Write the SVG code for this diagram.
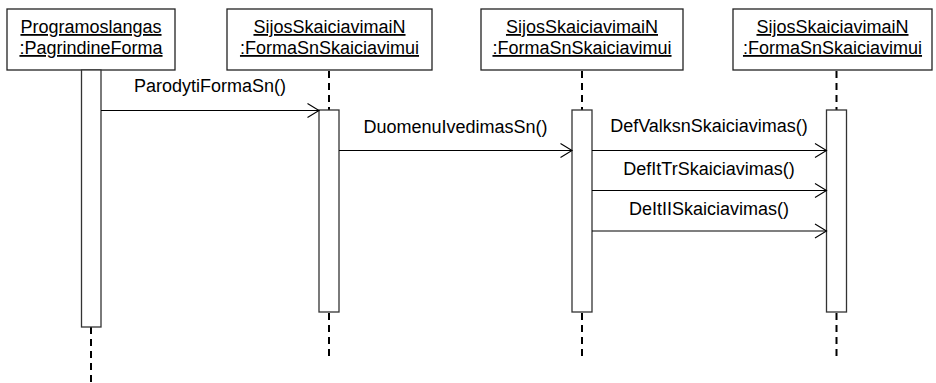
<svg xmlns="http://www.w3.org/2000/svg" width="936" height="383" viewBox="0 0 936 383">
  <style>
    .obj { fill: #ffffff; stroke: #222222; stroke-width: 1.3; }
    .act { fill: #ffffff; stroke: #333333; stroke-width: 1.3; }
    .life { stroke: #000000; stroke-width: 2; stroke-dasharray: 7 5; fill: none; }
    .msg { stroke: #000000; stroke-width: 1.1; fill: none; }
    .head { stroke: #000000; stroke-width: 1.1; fill: none; }
    text { font-family: "Liberation Sans", Arial, sans-serif; font-size: 18px; fill: #000000; }
    .name { text-anchor: middle; text-decoration: underline; }
    .lbl { text-anchor: middle; }
  </style>

  <!-- object boxes with their lifelines and activation bars -->
  <g id="programoslangas">
    <rect class="obj" x="7" y="9" width="168" height="61"/>
    <text class="name" x="91" y="33">Programoslangas</text>
    <text class="name" x="91" y="54">:PagrindineForma</text>
    <line class="life" x1="91" y1="327" x2="91" y2="383"/>
    <rect class="act" x="81.5" y="70" width="19.5" height="257"/>
  </g>

  <g id="forma-a">
    <rect class="obj" x="227" y="9" width="205" height="61"/>
    <text class="name" x="329.5" y="33">SijosSkaiciavimaiN</text>
    <text class="name" x="329.5" y="54">:FormaSnSkaiciavimui</text>
    <line class="life" x1="329" y1="71" x2="329" y2="110"/>
    <line class="life" x1="329" y1="313" x2="329" y2="360"/>
    <rect class="act" x="319" y="110" width="20" height="202"/>
  </g>

  <g id="forma-b">
    <rect class="obj" x="481" y="9" width="202" height="61"/>
    <text class="name" x="582" y="33">SijosSkaiciavimaiN</text>
    <text class="name" x="582" y="54">:FormaSnSkaiciavimui</text>
    <line class="life" x1="582" y1="71" x2="582" y2="110"/>
    <line class="life" x1="582" y1="313" x2="582" y2="360"/>
    <rect class="act" x="572" y="110" width="20" height="202"/>
  </g>

  <g id="forma-c">
    <rect class="obj" x="733" y="9" width="199" height="61"/>
    <text class="name" x="832.5" y="33">SijosSkaiciavimaiN</text>
    <text class="name" x="832.5" y="54">:FormaSnSkaiciavimui</text>
    <line class="life" x1="836.5" y1="71" x2="836.5" y2="110"/>
    <line class="life" x1="836.5" y1="313" x2="836.5" y2="360"/>
    <rect class="act" x="826.5" y="110" width="20" height="202"/>
  </g>

  <!-- synchronous messages -->
  <g id="messages">
    <line class="msg" x1="101" y1="110.5" x2="319" y2="110.5"/>
    <polyline class="head" points="307.5,103.5 319,110.5 307.5,117.5"/>
    <text class="lbl" x="210" y="92">ParodytiFormaSn()</text>

    <line class="msg" x1="339" y1="150.5" x2="572" y2="150.5"/>
    <polyline class="head" points="560.5,143.5 572,150.5 560.5,157.5"/>
    <text class="lbl" x="455.5" y="132.5">DuomenuIvedimasSn()</text>

    <line class="msg" x1="592" y1="150.5" x2="826.5" y2="150.5"/>
    <polyline class="head" points="815,143.5 826.5,150.5 815,157.5"/>
    <text class="lbl" x="709" y="132">DefValksnSkaiciavimas()</text>

    <line class="msg" x1="592" y1="190.5" x2="826.5" y2="190.5"/>
    <polyline class="head" points="815,183.5 826.5,190.5 815,197.5"/>
    <text class="lbl" x="709" y="175">DefItTrSkaiciavimas()</text>

    <line class="msg" x1="592" y1="231" x2="826.5" y2="231"/>
    <polyline class="head" points="815,224 826.5,231 815,238"/>
    <text class="lbl" x="709" y="215">DeItIISkaiciavimas()</text>
  </g>
</svg>
